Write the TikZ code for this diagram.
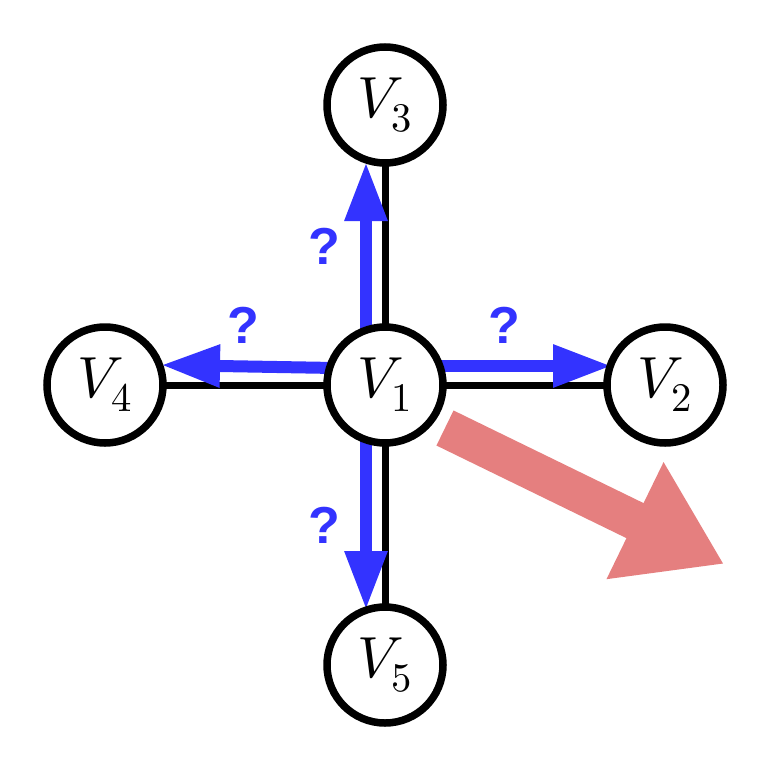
\documentclass[tikz,border=0pt]{standalone}
\usepackage{fontspec}
\usepackage{unicode-math}
\setmathfont{Latin Modern Math}
\newfontfamily\qfont{Liberation Sans}
\usetikzlibrary{arrows.meta}
\definecolor{qblue}{RGB}{51,51,255}
\definecolor{qred}{RGB}{229,127,127}
\tikzset{
  vnode/.style={circle, draw=black, line width=7.5pt, fill=white, minimum size=116pt, inner sep=0pt,
    font=\fontsize{58}{60}\selectfont},
  edgeline/.style={draw=black, line width=7pt},
  qarrow/.style={draw=qblue, line width=12pt, -{Triangle[length=59pt,width=40pt]}},
  qmark/.style={text=qblue, font=\qfont\bfseries\fontsize{52}{54}\selectfont, inner sep=0pt},
  bigarrow/.style={draw=qred, line width=39pt, -{Triangle[length=99pt,width=123pt]}}
}
\begin{document}
\begin{tikzpicture}[x=1pt,y=-1pt]
\useasboundingbox (0,0) rectangle (768,768);
% node positions (placeholders for edges)
\coordinate (c1) at (385,385);
\coordinate (c2) at (665,385);
\coordinate (c3) at (385,105);
\coordinate (c4) at (105,385);
\coordinate (c5) at (385,665);
% black edges
\draw[edgeline] (c1) -- (c2);
\draw[edgeline] (c1) -- (c3);
\draw[edgeline] (c1) -- (c4);
\draw[edgeline] (c1) -- (c5);
% blue arrow endpoints
\coordinate (u0) at (366,335);
\coordinate (u1) at (366,162);
\coordinate (d0) at (366,435);
\coordinate (d1) at (366,610);
\coordinate (r0) at (435,366);
\coordinate (r1) at (612,366);
\coordinate (l0) at (335,368);
\coordinate (l1) at (161,365);
\draw[qarrow] (u0) -- (u1);
\draw[qarrow] (d0) -- (d1);
\draw[qarrow] (r0) -- (r1);
\draw[qarrow] (l0) -- (l1);
% nodes
\node[vnode] (V1) at (c1) {$V_1$};
\node[vnode] (V2) at (c2) {$V_2$};
\node[vnode] (V3) at (c3) {$V_3$};
\node[vnode] (V4) at (c4) {$V_4$};
\node[vnode] (V5) at (c5) {$V_5$};
% question marks
\node[qmark] (q3) at (324,246) {?};
\node[qmark] (q2) at (504,325) {?};
\node[qmark] (q4) at (243,325) {?};
\node[qmark] (q5) at (324,525) {?};
% big red arrow
\coordinate (a0) at (445,428);
\coordinate (a1) at (724,564);
\draw[bigarrow] (a0) -- (a1);
\end{tikzpicture}
\end{document}
